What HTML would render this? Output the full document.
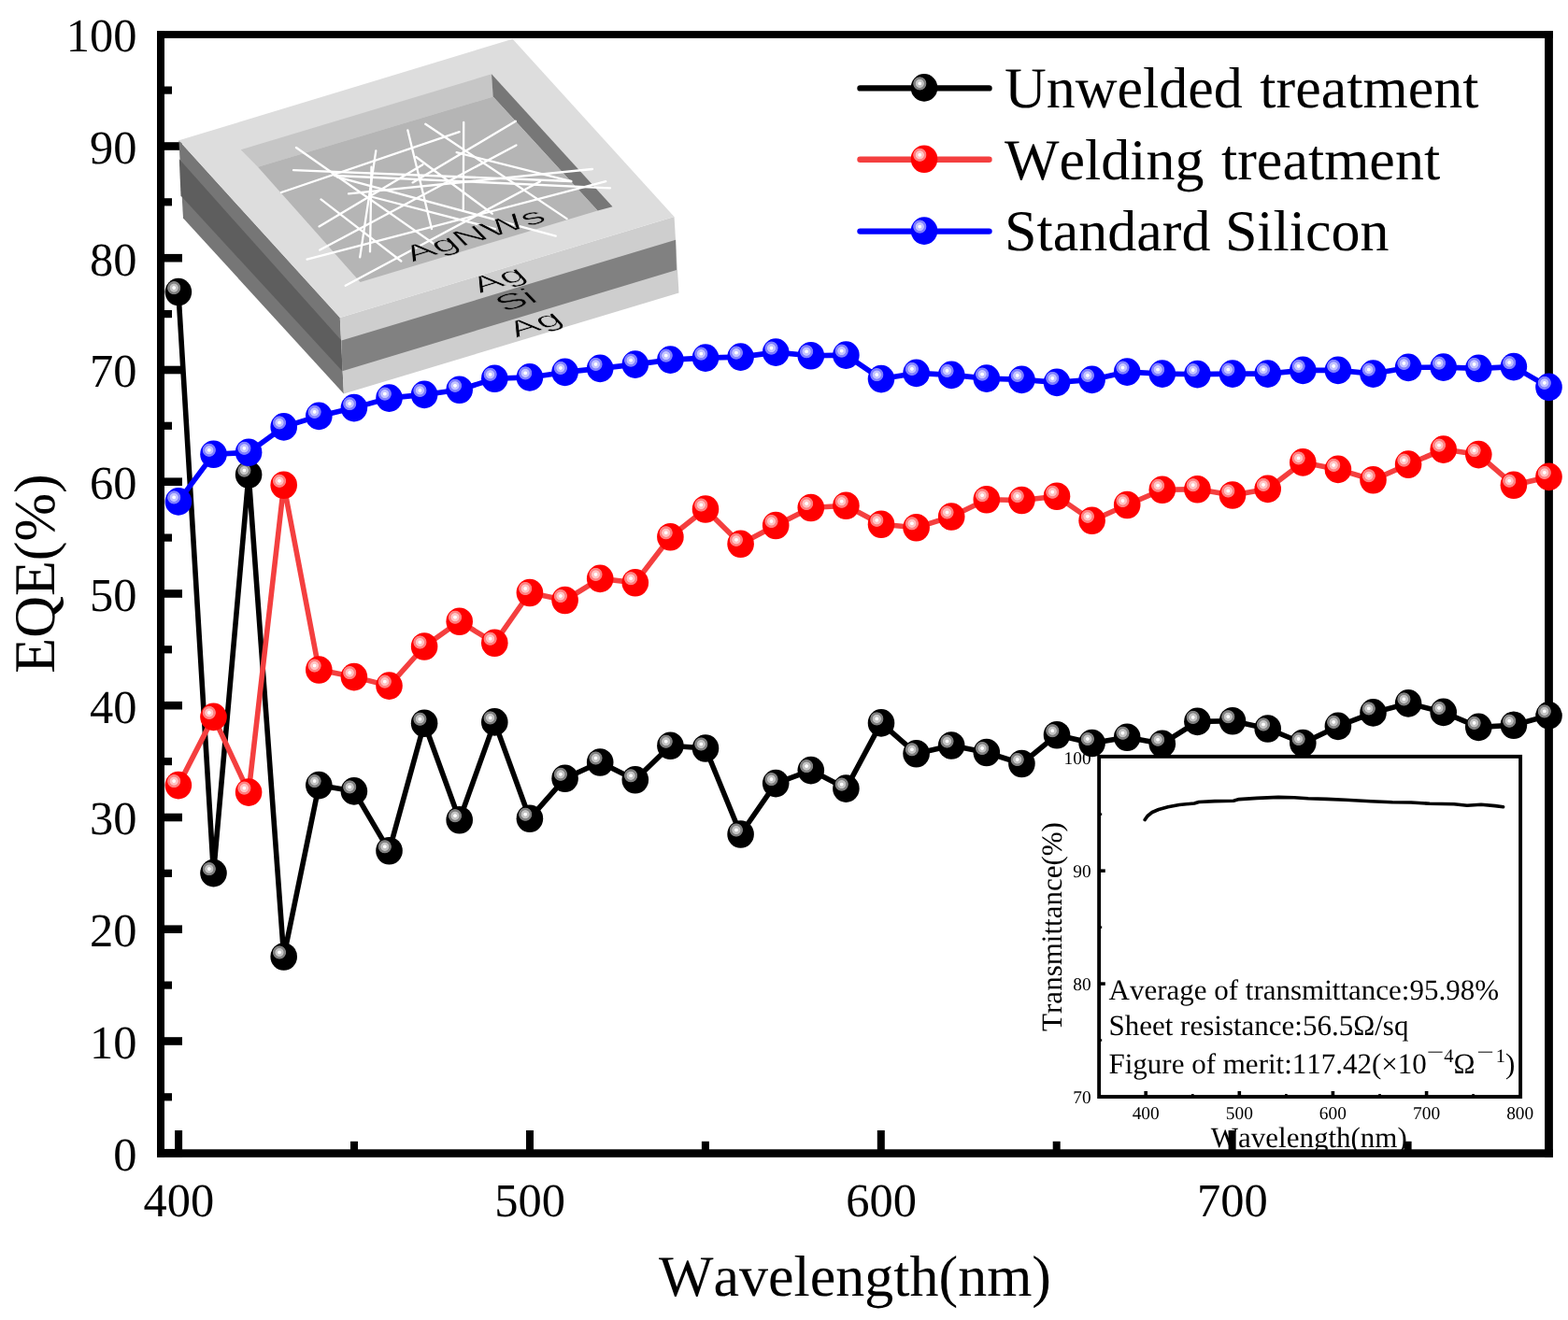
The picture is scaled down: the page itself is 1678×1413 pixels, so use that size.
<!DOCTYPE html>
<html lang="en"><head><meta charset="utf-8"><title>EQE vs Wavelength</title>
<style>html,body{margin:0;padding:0;background:#fff}body{width:1678px;height:1413px;overflow:hidden}svg{display:block}text{font-family:"Liberation Serif","DejaVu Serif",serif;fill:#000;font-kerning:none;font-variant-ligatures:none;text-rendering:geometricPrecision}.sans{font-family:"Liberation Sans","DejaVu Sans",sans-serif}</style></head><body>
<svg width="1678" height="1413" viewBox="0 0 1678 1413">
<defs>
<radialGradient id="gk" cx="0.5" cy="0.5" r="0.5"><stop offset="0" stop-color="#ffffff"/><stop offset="0.2" stop-color="#ffffff"/><stop offset="0.3" stop-color="#c4c4c4"/><stop offset="0.55" stop-color="#c4c4c4"/><stop offset="0.65" stop-color="#808080"/><stop offset="0.88" stop-color="#808080"/><stop offset="1" stop-color="#000000"/></radialGradient>
<g id="mk"><ellipse rx="14.3" ry="14.8" fill="#000000"/><circle cx="-4.7" cy="-4.5" r="7.5" fill="url(#gk)"/></g>
<radialGradient id="gr" cx="0.5" cy="0.5" r="0.5"><stop offset="0" stop-color="#ffffff"/><stop offset="0.2" stop-color="#ffffff"/><stop offset="0.3" stop-color="#ffc4c4"/><stop offset="0.55" stop-color="#ffc4c4"/><stop offset="0.65" stop-color="#ff8080"/><stop offset="0.88" stop-color="#ff8080"/><stop offset="1" stop-color="#ff0000"/></radialGradient>
<g id="mr"><ellipse rx="14.3" ry="14.8" fill="#ff0000"/><circle cx="-4.7" cy="-4.5" r="7.5" fill="url(#gr)"/></g>
<radialGradient id="gb" cx="0.5" cy="0.5" r="0.5"><stop offset="0" stop-color="#ffffff"/><stop offset="0.2" stop-color="#ffffff"/><stop offset="0.3" stop-color="#c4c4ff"/><stop offset="0.55" stop-color="#c4c4ff"/><stop offset="0.65" stop-color="#8080ff"/><stop offset="0.88" stop-color="#8080ff"/><stop offset="1" stop-color="#0000ff"/></radialGradient>
<g id="mb"><ellipse rx="14.3" ry="14.8" fill="#0000ff"/><circle cx="-4.7" cy="-4.5" r="7.5" fill="url(#gb)"/></g>
</defs>
<rect x="0" y="0" width="1678" height="1413" fill="#ffffff"/>
<g>
<rect x="1176" y="810" width="451" height="364" fill="#ffffff"/>
<polyline points="1225.2,877.6 1228.0,873.5 1233.0,869.5 1240.0,866.5 1250.0,863.8 1262.0,861.5 1278.0,860.0 1283.0,858.5 1300.0,857.6 1320.0,857.2 1326.0,855.6 1345.0,854.4 1368.0,853.4 1385.0,853.8 1400.0,854.8 1420.0,855.4 1440.0,856.2 1467.0,857.8 1490.0,858.8 1510.0,859.0 1530.0,860.2 1556.0,860.8 1570.0,862.2 1585.0,861.2 1600.0,862.6 1608.6,863.7" fill="none" stroke="#000" stroke-width="3.6" stroke-linejoin="round" stroke-linecap="round"/>
<rect x="1176.15" y="809.85" width="450.95" height="364.2" fill="none" stroke="#000" stroke-width="3.9"/>
<g fill="#000">
<rect x="1178" y="1051.3" width="4.8" height="3.5"/>
<rect x="1178" y="930.4" width="4.8" height="3.5"/>
<rect x="1178" y="1112.3" width="1.2" height="2.4"/>
<rect x="1178" y="991.4" width="1.2" height="2.4"/>
<rect x="1178" y="870.4" width="1.2" height="2.4"/>
<rect x="1224.4" y="1168" width="3.6" height="5"/>
<rect x="1324.5" y="1168" width="3.6" height="5"/>
<rect x="1424.6" y="1168" width="3.6" height="5"/>
<rect x="1524.8" y="1168" width="3.6" height="5"/>
<rect x="1275.0" y="1171" width="2.6" height="2"/>
<rect x="1375.1" y="1171" width="2.6" height="2"/>
<rect x="1475.2" y="1171" width="2.6" height="2"/>
<rect x="1575.3" y="1171" width="2.6" height="2"/>
</g>
<g font-size="19.4">
<text x="1167.6" y="1181.0" text-anchor="end">70</text>
<text x="1167.6" y="1060.0" text-anchor="end">80</text>
<text x="1167.6" y="939.1" text-anchor="end">90</text>
<text x="1167.6" y="818.1" text-anchor="end">100</text>
<text x="1226.2" y="1197.8" text-anchor="middle">400</text>
<text x="1326.3" y="1197.8" text-anchor="middle">500</text>
<text x="1426.4" y="1197.8" text-anchor="middle">600</text>
<text x="1526.6" y="1197.8" text-anchor="middle">700</text>
<text x="1626.7" y="1197.8" text-anchor="middle">800</text>
</g>
<text transform="translate(1136.4,992) rotate(-90)" font-size="31" text-anchor="middle">Transmittance(%)</text>
<text x="1400.8" y="1228.3" font-size="31" text-anchor="middle">Wavelength(nm)</text>
<g font-size="31">
<text x="1186.5" y="1069.7">Average of transmittance:95.98%</text>
<text x="1186.5" y="1108.2">Sheet resistance:56.5&#937;/sq</text>
<text x="1186.5" y="1149.3">Figure of merit:117.42(&#215;10<tspan font-size="20.5" dy="-16" textLength="18.5" lengthAdjust="spacingAndGlyphs">&#8722;</tspan><tspan font-size="20.5" dy="3.5">4</tspan><tspan dy="12.5">&#937;</tspan><tspan font-size="20.5" dy="-16" dx="1.5" textLength="18.5" lengthAdjust="spacingAndGlyphs">&#8722;</tspan><tspan font-size="20.5" dx="2" dy="3.5">1</tspan><tspan dy="12.5">)</tspan></text>
</g>
</g>
<g fill="#000">
<rect x="168" y="33.1" width="8" height="1205.8"/>
<rect x="1653.1" y="33.1" width="8.8" height="1205.8"/>
<rect x="168" y="33.1" width="1493.9" height="7.8"/>
<rect x="168" y="1230.3" width="1493.9" height="8.6"/>
<rect x="176" y="1229.9" width="19" height="8.6"/>
<rect x="176" y="1170.2" width="8" height="8.2"/>
<rect x="176" y="1110.2" width="19" height="8.6"/>
<rect x="176" y="1050.5" width="8" height="8.2"/>
<rect x="176" y="990.4" width="19" height="8.6"/>
<rect x="176" y="930.7" width="8" height="8.2"/>
<rect x="176" y="870.7" width="19" height="8.6"/>
<rect x="176" y="811.0" width="8" height="8.2"/>
<rect x="176" y="750.9" width="19" height="8.6"/>
<rect x="176" y="691.2" width="8" height="8.2"/>
<rect x="176" y="631.2" width="19" height="8.6"/>
<rect x="176" y="571.5" width="8" height="8.2"/>
<rect x="176" y="511.4" width="19" height="8.6"/>
<rect x="176" y="451.7" width="8" height="8.2"/>
<rect x="176" y="391.7" width="19" height="8.6"/>
<rect x="176" y="332.0" width="8" height="8.2"/>
<rect x="176" y="271.9" width="19" height="8.6"/>
<rect x="176" y="212.2" width="8" height="8.2"/>
<rect x="176" y="152.2" width="19" height="8.6"/>
<rect x="176" y="92.5" width="8" height="8.2"/>
<rect x="187.1" y="1210" width="8" height="22"/>
<rect x="375.0" y="1221.8" width="8" height="10"/>
<rect x="563.0" y="1210" width="8" height="22"/>
<rect x="750.9" y="1221.8" width="8" height="10"/>
<rect x="938.8" y="1210" width="8" height="22"/>
<rect x="1126.7" y="1221.8" width="8" height="10"/>
<rect x="1314.6" y="1210" width="8" height="22"/>
<rect x="1502.6" y="1221.8" width="8" height="10"/>
</g>
<g>
<polygon points="191.4,150.3 363.8,340.0 367.9,421.4 196.0,233.5" fill="#767676"/>
<polygon points="191.8,170.3 365.4,364.6 366.3,397.3 193.5,209.5" fill="#5e5e5e"/>
<polygon points="363.8,340.0 721.5,232.1 726.5,313.6 367.9,421.4" fill="#cecece"/>
<polygon points="365.4,364.6 723.1,256.7 724.0,288.9 366.3,397.3" fill="#818181"/>
<polygon points="191.4,150.3 548.6,41.7 721.5,232.1 363.8,340.0" fill="#dddddd"/>
<polygon points="257.7,160.3 526.0,79.3 527.7,103.5 276.0,178.7" fill="#c6c6c6"/>
<polygon points="526.0,79.3 655.5,221.3 639.6,225.5 527.7,103.5" fill="#777777"/>
<polygon points="276.0,178.7 527.7,103.5 639.6,225.5 385.5,301.9" fill="#b5b5b5"/>
<g stroke="#ffffff" stroke-width="2.3" stroke-linecap="round" fill="none">
<line x1="317.0" y1="158.0" x2="470.0" y2="265.0"/>
<line x1="314.0" y1="182.2" x2="611.0" y2="194.0"/>
<line x1="301.0" y1="206.0" x2="491.6" y2="141.1"/>
<line x1="402.3" y1="161.4" x2="385.2" y2="275.4"/>
<line x1="397.5" y1="178.7" x2="396.0" y2="269.4"/>
<line x1="436.3" y1="139.3" x2="462.0" y2="245.0"/>
<line x1="455.3" y1="132.8" x2="606.6" y2="234.1"/>
<line x1="358.0" y1="188.0" x2="653.0" y2="201.3"/>
<line x1="373.0" y1="207.3" x2="634.0" y2="181.0"/>
<line x1="343.5" y1="213.4" x2="429.3" y2="279.5"/>
<line x1="341.5" y1="242.4" x2="452.4" y2="176.3"/>
<line x1="441.6" y1="195.4" x2="551.8" y2="129.8"/>
<line x1="342.3" y1="267.6" x2="552.4" y2="155.4"/>
<line x1="328.6" y1="277.7" x2="648.3" y2="194.2"/>
<line x1="369.7" y1="305.7" x2="578.0" y2="194.2"/>
<line x1="496.2" y1="131.0" x2="495.8" y2="224.0"/>
<line x1="488.6" y1="163.2" x2="611.4" y2="194.2"/>
<line x1="360.6" y1="189.4" x2="594.7" y2="252.6"/>
<line x1="399.0" y1="211.0" x2="530.0" y2="245.0"/>
<line x1="445.2" y1="168.0" x2="526.7" y2="228.7"/>
</g>
<text class="sans" font-size="28" fill="#0a0a0a" stroke="#b5b5b5" stroke-width="0.55" transform="matrix(1.53,-0.471,0.71,0.74,441.5,280.5)">AgNWs</text>
<text class="sans" font-size="28" fill="#0a0a0a" stroke="#cecece" stroke-width="0.55" transform="matrix(1.53,-0.471,0.71,0.74,513.5,314.0)">Ag</text>
<text class="sans" font-size="28" fill="#0a0a0a" stroke="#818181" stroke-width="0.55" transform="matrix(1.53,-0.471,0.71,0.74,539.5,334.0)">Si</text>
<text class="sans" font-size="28" fill="#0a0a0a" stroke="#cecece" stroke-width="0.55" transform="matrix(1.53,-0.471,0.71,0.74,552.5,361.5)">Ag</text>
</g>
<polyline points="190.9,312.6 228.5,934.6 266.1,508.1 303.7,1024.0 341.3,840.6 378.9,846.9 416.5,910.8 454.1,774.2 491.7,877.7 529.3,772.9 566.9,876.2 604.6,833.3 642.2,816.0 679.8,834.8 717.4,798.2 755.0,801.0 792.6,893.0 830.2,838.6 867.8,824.6 905.4,844.1 943.0,773.9 980.6,806.8 1018.2,798.0 1055.8,805.5 1093.4,817.5 1131.0,786.7 1168.6,795.5 1206.2,789.2 1243.8,796.2 1281.4,772.4 1319.0,771.7 1356.7,780.0 1394.3,795.5 1431.9,777.4 1469.5,762.9 1507.1,752.9 1544.7,762.4 1582.3,778.4 1619.9,776.2 1657.5,765.9" fill="none" stroke="#000000" stroke-width="5.6" stroke-linejoin="round"/>
<use href="#mk" x="190.9" y="312.6"/>
<use href="#mk" x="228.5" y="934.6"/>
<use href="#mk" x="266.1" y="508.1"/>
<use href="#mk" x="303.7" y="1024.0"/>
<use href="#mk" x="341.3" y="840.6"/>
<use href="#mk" x="378.9" y="846.9"/>
<use href="#mk" x="416.5" y="910.8"/>
<use href="#mk" x="454.1" y="774.2"/>
<use href="#mk" x="491.7" y="877.7"/>
<use href="#mk" x="529.3" y="772.9"/>
<use href="#mk" x="566.9" y="876.2"/>
<use href="#mk" x="604.6" y="833.3"/>
<use href="#mk" x="642.2" y="816.0"/>
<use href="#mk" x="679.8" y="834.8"/>
<use href="#mk" x="717.4" y="798.2"/>
<use href="#mk" x="755.0" y="801.0"/>
<use href="#mk" x="792.6" y="893.0"/>
<use href="#mk" x="830.2" y="838.6"/>
<use href="#mk" x="867.8" y="824.6"/>
<use href="#mk" x="905.4" y="844.1"/>
<use href="#mk" x="943.0" y="773.9"/>
<use href="#mk" x="980.6" y="806.8"/>
<use href="#mk" x="1018.2" y="798.0"/>
<use href="#mk" x="1055.8" y="805.5"/>
<use href="#mk" x="1093.4" y="817.5"/>
<use href="#mk" x="1131.0" y="786.7"/>
<use href="#mk" x="1168.6" y="795.5"/>
<use href="#mk" x="1206.2" y="789.2"/>
<use href="#mk" x="1243.8" y="796.2"/>
<use href="#mk" x="1281.4" y="772.4"/>
<use href="#mk" x="1319.0" y="771.7"/>
<use href="#mk" x="1356.7" y="780.0"/>
<use href="#mk" x="1394.3" y="795.5"/>
<use href="#mk" x="1431.9" y="777.4"/>
<use href="#mk" x="1469.5" y="762.9"/>
<use href="#mk" x="1507.1" y="752.9"/>
<use href="#mk" x="1544.7" y="762.4"/>
<use href="#mk" x="1582.3" y="778.4"/>
<use href="#mk" x="1619.9" y="776.2"/>
<use href="#mk" x="1657.5" y="765.9"/>
<polyline points="190.9,840.6 228.5,767.4 266.1,848.1 303.7,519.3 341.3,717.0 378.9,724.6 416.5,734.1 454.1,692.0 491.7,665.2 529.3,688.2 566.9,634.5 604.6,642.5 642.2,619.4 679.8,623.7 717.4,574.8 755.0,545.0 792.6,582.3 830.2,562.5 867.8,543.5 905.4,541.2 943.0,561.3 980.6,564.8 1018.2,553.0 1055.8,534.7 1093.4,535.5 1131.0,531.2 1168.6,557.3 1206.2,540.5 1243.8,524.2 1281.4,523.7 1319.0,530.0 1356.7,523.4 1394.3,494.9 1431.9,502.4 1469.5,513.7 1507.1,497.1 1544.7,481.1 1582.3,486.6 1619.9,519.2 1657.5,510.4" fill="none" stroke="#f43f3f" stroke-width="5.6" stroke-linejoin="round"/>
<use href="#mr" x="190.9" y="840.6"/>
<use href="#mr" x="228.5" y="767.4"/>
<use href="#mr" x="266.1" y="848.1"/>
<use href="#mr" x="303.7" y="519.3"/>
<use href="#mr" x="341.3" y="717.0"/>
<use href="#mr" x="378.9" y="724.6"/>
<use href="#mr" x="416.5" y="734.1"/>
<use href="#mr" x="454.1" y="692.0"/>
<use href="#mr" x="491.7" y="665.2"/>
<use href="#mr" x="529.3" y="688.2"/>
<use href="#mr" x="566.9" y="634.5"/>
<use href="#mr" x="604.6" y="642.5"/>
<use href="#mr" x="642.2" y="619.4"/>
<use href="#mr" x="679.8" y="623.7"/>
<use href="#mr" x="717.4" y="574.8"/>
<use href="#mr" x="755.0" y="545.0"/>
<use href="#mr" x="792.6" y="582.3"/>
<use href="#mr" x="830.2" y="562.5"/>
<use href="#mr" x="867.8" y="543.5"/>
<use href="#mr" x="905.4" y="541.2"/>
<use href="#mr" x="943.0" y="561.3"/>
<use href="#mr" x="980.6" y="564.8"/>
<use href="#mr" x="1018.2" y="553.0"/>
<use href="#mr" x="1055.8" y="534.7"/>
<use href="#mr" x="1093.4" y="535.5"/>
<use href="#mr" x="1131.0" y="531.2"/>
<use href="#mr" x="1168.6" y="557.3"/>
<use href="#mr" x="1206.2" y="540.5"/>
<use href="#mr" x="1243.8" y="524.2"/>
<use href="#mr" x="1281.4" y="523.7"/>
<use href="#mr" x="1319.0" y="530.0"/>
<use href="#mr" x="1356.7" y="523.4"/>
<use href="#mr" x="1394.3" y="494.9"/>
<use href="#mr" x="1431.9" y="502.4"/>
<use href="#mr" x="1469.5" y="513.7"/>
<use href="#mr" x="1507.1" y="497.1"/>
<use href="#mr" x="1544.7" y="481.1"/>
<use href="#mr" x="1582.3" y="486.6"/>
<use href="#mr" x="1619.9" y="519.2"/>
<use href="#mr" x="1657.5" y="510.4"/>
<polyline points="190.9,536.9 228.5,486.3 266.1,484.3 303.7,456.9 341.3,445.4 378.9,436.6 416.5,426.1 454.1,422.4 491.7,417.3 529.3,405.3 566.9,403.9 604.6,398.4 642.2,394.4 679.8,390.1 717.4,385.1 755.0,383.1 792.6,382.1 830.2,377.1 867.8,380.8 905.4,380.1 943.0,405.6 980.6,399.4 1018.2,401.4 1055.8,405.1 1093.4,406.4 1131.0,409.4 1168.6,406.4 1206.2,398.1 1243.8,400.1 1281.4,400.6 1319.0,400.1 1356.7,400.1 1394.3,396.4 1431.9,396.4 1469.5,400.1 1507.1,393.4 1544.7,393.1 1582.3,394.4 1619.9,392.6 1657.5,414.4" fill="none" stroke="#0000ff" stroke-width="5.6" stroke-linejoin="round"/>
<use href="#mb" x="190.9" y="536.9"/>
<use href="#mb" x="228.5" y="486.3"/>
<use href="#mb" x="266.1" y="484.3"/>
<use href="#mb" x="303.7" y="456.9"/>
<use href="#mb" x="341.3" y="445.4"/>
<use href="#mb" x="378.9" y="436.6"/>
<use href="#mb" x="416.5" y="426.1"/>
<use href="#mb" x="454.1" y="422.4"/>
<use href="#mb" x="491.7" y="417.3"/>
<use href="#mb" x="529.3" y="405.3"/>
<use href="#mb" x="566.9" y="403.9"/>
<use href="#mb" x="604.6" y="398.4"/>
<use href="#mb" x="642.2" y="394.4"/>
<use href="#mb" x="679.8" y="390.1"/>
<use href="#mb" x="717.4" y="385.1"/>
<use href="#mb" x="755.0" y="383.1"/>
<use href="#mb" x="792.6" y="382.1"/>
<use href="#mb" x="830.2" y="377.1"/>
<use href="#mb" x="867.8" y="380.8"/>
<use href="#mb" x="905.4" y="380.1"/>
<use href="#mb" x="943.0" y="405.6"/>
<use href="#mb" x="980.6" y="399.4"/>
<use href="#mb" x="1018.2" y="401.4"/>
<use href="#mb" x="1055.8" y="405.1"/>
<use href="#mb" x="1093.4" y="406.4"/>
<use href="#mb" x="1131.0" y="409.4"/>
<use href="#mb" x="1168.6" y="406.4"/>
<use href="#mb" x="1206.2" y="398.1"/>
<use href="#mb" x="1243.8" y="400.1"/>
<use href="#mb" x="1281.4" y="400.6"/>
<use href="#mb" x="1319.0" y="400.1"/>
<use href="#mb" x="1356.7" y="400.1"/>
<use href="#mb" x="1394.3" y="396.4"/>
<use href="#mb" x="1431.9" y="396.4"/>
<use href="#mb" x="1469.5" y="400.1"/>
<use href="#mb" x="1507.1" y="393.4"/>
<use href="#mb" x="1544.7" y="393.1"/>
<use href="#mb" x="1582.3" y="394.4"/>
<use href="#mb" x="1619.9" y="392.6"/>
<use href="#mb" x="1657.5" y="414.4"/>
<g font-size="50.5">
<text x="146.5" y="1252.5" text-anchor="end">0</text>
<text x="146.5" y="1132.8" text-anchor="end">10</text>
<text x="146.5" y="1013.0" text-anchor="end">20</text>
<text x="146.5" y="893.2" text-anchor="end">30</text>
<text x="146.5" y="773.5" text-anchor="end">40</text>
<text x="146.5" y="653.8" text-anchor="end">50</text>
<text x="146.5" y="534.0" text-anchor="end">60</text>
<text x="146.5" y="414.3" text-anchor="end">70</text>
<text x="146.5" y="294.5" text-anchor="end">80</text>
<text x="146.5" y="174.8" text-anchor="end">90</text>
<text x="146.5" y="55.0" text-anchor="end">100</text>
<text x="191.3" y="1301.7" text-anchor="middle">400</text>
<text x="567.2" y="1301.7" text-anchor="middle">500</text>
<text x="943.0" y="1301.7" text-anchor="middle">600</text>
<text x="1318.8" y="1301.7" text-anchor="middle">700</text>
</g>
<text x="915" y="1386.5" font-size="62" text-anchor="middle">Wavelength(nm)</text>
<text transform="translate(58,614) rotate(-90)" font-size="62" text-anchor="middle">EQE(%)</text>
<line x1="920.5" y1="94.4" x2="1058.5" y2="94.4" stroke="#000000" stroke-width="6.4" stroke-linecap="round"/>
<use href="#mk" x="989" y="93.9"/>
<text x="1075" y="115.2" font-size="62">Unwelded <tspan dx="3">treatment</tspan></text>
<line x1="920.5" y1="170.8" x2="1058.5" y2="170.8" stroke="#f43f3f" stroke-width="6.4" stroke-linecap="round"/>
<use href="#mr" x="989" y="170.3"/>
<text x="1075" y="191.5" font-size="62">Welding <tspan dx="3">treatment</tspan></text>
<line x1="920.5" y1="247.6" x2="1058.5" y2="247.6" stroke="#0000ff" stroke-width="6.4" stroke-linecap="round"/>
<use href="#mb" x="989" y="247.1"/>
<text x="1075" y="268.3" font-size="62">Standard Silicon</text>
</svg></body></html>
